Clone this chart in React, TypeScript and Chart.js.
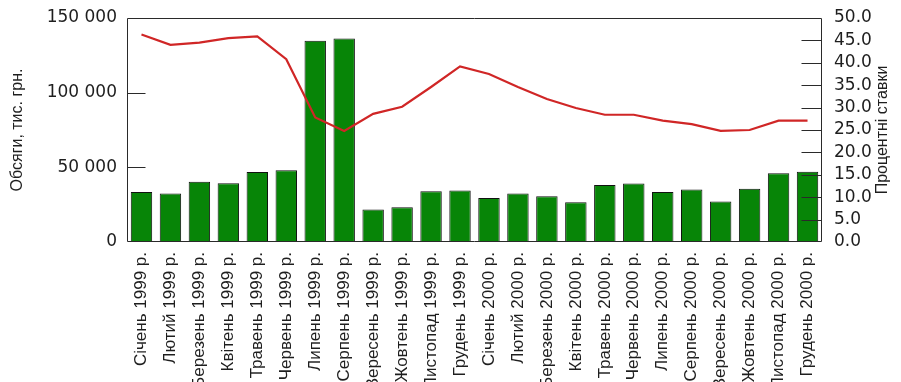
import React, { useEffect, useRef } from 'react';
import { Chart, registerables } from 'chart.js';

Chart.register(...registerables);

const categories = [
  'Січень 1999 р.', 'Лютий 1999 р.', 'Березень 1999 р.', 'Квітень 1999 р.',
  'Травень 1999 р.', 'Червень 1999 р.', 'Липень 1999 р.', 'Серпень 1999 р.',
  'Вересень 1999 р.', 'Жовтень 1999 р.', 'Листопад 1999 р.', 'Грудень 1999 р.',
  'Січень 2000 р.', 'Лютий 2000 р.', 'Березень 2000 р.', 'Квітень 2000 р.',
  'Травень 2000 р.', 'Червень 2000 р.', 'Липень 2000 р.', 'Серпень 2000 р.',
  'Вересень 2000 р.', 'Жовтень 2000 р.', 'Листопад 2000 р.', 'Грудень 2000 р.',
];

const volumes = [
  33400, 32500, 40300, 39400, 46800, 48100, 134700, 136300, 21700, 23300, 34000, 34500,
  29500, 32500, 30700, 26700, 38100, 39200, 33400, 35200, 27100, 35600, 46100, 47000,
];

const rates = [
  46.3, 44.0, 44.5, 45.5, 45.9, 40.8, 27.8, 24.8, 28.6, 30.2, 34.6, 39.2,
  37.5, 34.6, 31.9, 29.9, 28.4, 28.4, 27.1, 26.3, 24.8, 25.0, 27.1, 27.1,
];

const leftTickValues = [0, 50000, 100000, 150000];
const rightTickValues = [0, 5, 10, 15, 20, 25, 30, 35, 40, 45, 50];

const leftTitle = 'Обсяги, тис. грн.';
const rightTitle = 'Процентні ставки';

const formatThousands = (v: number) =>
  String(v).replace(/\B(?=(\d{3})+(?!\d))/g, ' ');

const frameAndTicks = {
  id: 'frameAndTicks',
  afterDatasetsDraw(chart: any) {
    const { ctx, chartArea } = chart;
    const { left, right, top, bottom } = chartArea;
    const yL = chart.scales.y;
    const yR = chart.scales.y1;
    ctx.save();
    ctx.strokeStyle = '#2a2a2a';
    ctx.lineWidth = 1;
    ctx.beginPath();
    const l = Math.round(left) + 0.5;
    const r = Math.round(right) - 0.5;
    const t = Math.round(top) + 0.5;
    const b = Math.round(bottom) - 0.5;
    ctx.moveTo(l, b);
    ctx.lineTo(l, t);
    ctx.lineTo(r, t);
    ctx.lineTo(r, b);
    ctx.lineTo(l, b);
    leftTickValues.forEach((v) => {
      if (v === 0 || v === leftTickValues[leftTickValues.length - 1]) return;
      const y = Math.round(yL.getPixelForValue(v)) + 0.5;
      ctx.moveTo(l, y);
      ctx.lineTo(l + 18, y);
    });
    rightTickValues.forEach((v) => {
      if (v === 0 || v === rightTickValues[rightTickValues.length - 1]) return;
      const y = Math.round(yR.getPixelForValue(v)) + 0.5;
      ctx.moveTo(r, y);
      ctx.lineTo(r - 20, y);
    });
    ctx.stroke();

    ctx.translate(883, (top + bottom) / 2);
    ctx.rotate(-Math.PI / 2);
    ctx.textAlign = 'center';
    ctx.textBaseline = 'middle';
    ctx.font = '16px "Liberation Sans", Arial, sans-serif';
    ctx.fillStyle = '#1e1e1e';
    ctx.fillText(rightTitle, 0, 0);
    ctx.restore();
  },
};

export default function App() {
  const canvasRef = useRef<HTMLCanvasElement | null>(null);

  useEffect(() => {
    const canvas = canvasRef.current;
    if (!canvas) return;
    const chart = new Chart(canvas, {
      type: 'bar',
      data: {
        labels: categories,
        datasets: [
          {
            type: 'line',
            label: rightTitle,
            data: rates,
            yAxisID: 'y1',
            borderColor: '#d02626',
            borderWidth: 2.2,
            pointRadius: 0,
            tension: 0,
            order: 0,
          } as any,
          {
            type: 'bar',
            label: leftTitle,
            data: volumes,
            yAxisID: 'y',
            backgroundColor: '#078507',
            borderColor: '#111111',
            borderWidth: 1,
            barPercentage: 0.74,
            categoryPercentage: 1,
            order: 1,
          } as any,
        ],
      },
      options: {
        responsive: false,
        animation: false,
        devicePixelRatio: 1,
        layout: { padding: { top: 18, left: 0, right: 0, bottom: 0 } },
        plugins: {
          legend: { display: false },
          tooltip: { enabled: false },
        },
        scales: {
          x: {
            grid: { display: false, drawTicks: false },
            border: { display: false },
            ticks: {
              autoSkip: false,
              maxRotation: 90,
              minRotation: 90,
              padding: 10,
              color: '#1e1e1e',
              font: { family: '"Liberation Sans", Arial, sans-serif', size: 17 },
            },
            afterFit: (s: any) => {
              s.height = 140;
              s.paddingLeft = 0;
              s.paddingRight = 0;
            },
          },
          y: {
            position: 'left',
            min: 0,
            max: 150000,
            grid: { display: false, drawTicks: false },
            border: { display: false },
            ticks: {
              stepSize: 50000,
              autoSkip: false,
              padding: 10,
              color: '#1e1e1e',
              font: { family: '"DejaVu Sans", sans-serif', size: 17 },
              callback: (v: any) => formatThousands(Number(v)),
            },
            title: {
              display: true,
              text: leftTitle,
              color: '#1e1e1e',
              font: { family: '"Liberation Sans", Arial, sans-serif', size: 16 },
              padding: { top: 8, bottom: 0 },
            },
            afterFit: (s: any) => {
              s.width = 127;
              s.paddingTop = 0;
              s.paddingBottom = 0;
            },
          },
          y1: {
            position: 'right',
            min: 0,
            max: 50,
            grid: { display: false, drawTicks: false },
            border: { display: false },
            ticks: {
              stepSize: 5,
              autoSkip: false,
              padding: 12,
              color: '#1e1e1e',
              font: { family: '"DejaVu Sans", sans-serif', size: 17 },
              callback: (v: any) => Number(v).toFixed(1),
            },
            afterFit: (s: any) => {
              s.width = 79;
              s.paddingTop = 0;
              s.paddingBottom = 0;
            },
          },
        },
      },
      plugins: [frameAndTicks],
    });
    return () => chart.destroy();
  }, []);

  return (
    <div style={{ position: 'absolute', left: 0, top: 0, width: 901, height: 382, background: '#ffffff' }}>
      <canvas ref={canvasRef} width={901} height={382} style={{ display: 'block', width: 901, height: 382 }} />
    </div>
  );
}
